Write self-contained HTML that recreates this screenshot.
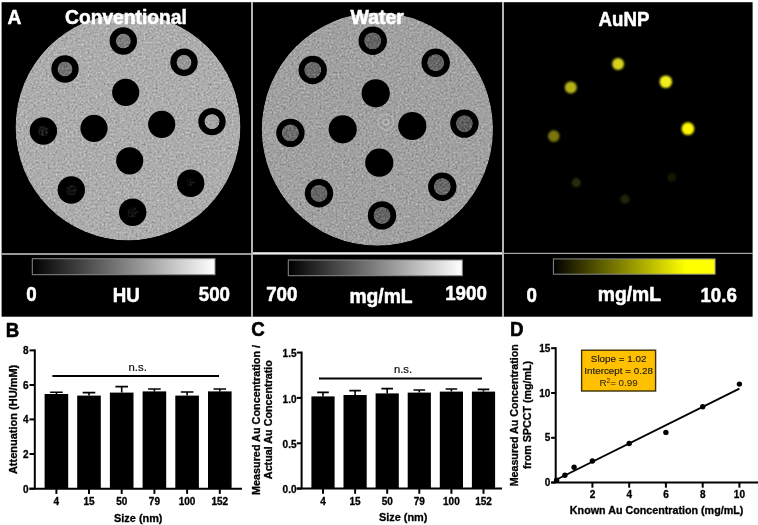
<!DOCTYPE html>
<html><head><meta charset="utf-8"><title>Figure</title>
<style>html,body{margin:0;padding:0;background:#fff}svg{display:block}text{font-family:"Liberation Sans",Arial,sans-serif}.b{font-weight:bold}</style>
</head><body>
<svg width="758" height="525" viewBox="0 0 758 525">
<defs>
<filter id="nz" x="0" y="0" width="100%" height="100%" color-interpolation-filters="sRGB">
<feTurbulence type="fractalNoise" baseFrequency="0.5" numOctaves="2" seed="7" result="t"/>
<feColorMatrix in="t" type="matrix" values="0.6 0.6 0.6 0 -0.4  0.6 0.6 0.6 0 -0.4  0.6 0.6 0.6 0 -0.4  0 0 0 0 1" result="g0"/>
<feGaussianBlur in="g0" stdDeviation="0.6" result="g"/>
<feGaussianBlur in="SourceGraphic" stdDeviation="0.5" result="sg"/>
<feComposite in="sg" in2="g" operator="arithmetic" k1="0" k2="1" k3="0.36" k4="-0.18" result="c"/>
<feComposite in="c" in2="sg" operator="in"/>
</filter>
<filter id="bl" x="-50%" y="-50%" width="200%" height="200%"><feGaussianBlur stdDeviation="0.9"/></filter>
<filter id="bl2" x="-50%" y="-50%" width="200%" height="200%"><feGaussianBlur stdDeviation="0.5"/></filter>
<linearGradient id="gw" x1="0" x2="1" y1="0" y2="0"><stop offset="0" stop-color="#000"/><stop offset="1" stop-color="#fff"/></linearGradient>
<linearGradient id="gy" x1="0" x2="1" y1="0" y2="0"><stop offset="0" stop-color="#000"/><stop offset="0.82" stop-color="#ffff00"/><stop offset="1" stop-color="#ffff00"/></linearGradient>
</defs>
<rect x="0" y="0" width="758" height="525" fill="#fff"/>
<rect x="1.6" y="2.2" width="751" height="314.5" fill="#000"/>
<g filter="url(#nz)"><ellipse cx="128" cy="127" rx="112.5" ry="113.4" fill="#acacac"/></g>
<circle cx="125.7" cy="92.3" r="13.6" fill="#000" filter="url(#bl2)"/>
<circle cx="94" cy="128.3" r="13.6" fill="#000" filter="url(#bl2)"/>
<circle cx="161.7" cy="124.3" r="13.6" fill="#000" filter="url(#bl2)"/>
<circle cx="129.7" cy="160.8" r="13.6" fill="#000" filter="url(#bl2)"/>
<circle cx="123.3" cy="41" r="13.7" fill="#000" filter="url(#bl2)"/>
<circle cx="65" cy="69" r="13.7" fill="#000" filter="url(#bl2)"/>
<circle cx="184" cy="62.3" r="13.7" fill="#000" filter="url(#bl2)"/>
<circle cx="212" cy="121.6" r="13.7" fill="#000" filter="url(#bl2)"/>
<circle cx="43.4" cy="131" r="13.7" fill="#000" filter="url(#bl2)"/>
<circle cx="71.3" cy="190" r="13.7" fill="#000" filter="url(#bl2)"/>
<circle cx="190.7" cy="183.3" r="13.7" fill="#000" filter="url(#bl2)"/>
<circle cx="132.7" cy="212.3" r="13.7" fill="#000" filter="url(#bl2)"/>
<g filter="url(#nz)">
<circle cx="123.3" cy="41" r="7.6" fill="#7c7c7c"/>
<circle cx="65" cy="69" r="7.6" fill="#727272"/>
<circle cx="184" cy="62.3" r="7.6" fill="#969696"/>
<circle cx="212" cy="121.6" r="7.7" fill="#a6a6a6"/>
<circle cx="43.4" cy="131" r="5.5" fill="#181818"/>
<circle cx="71.3" cy="190" r="5.5" fill="#111111"/>
<circle cx="190.7" cy="183.3" r="4.5" fill="#0a0a0a"/>
<circle cx="132.7" cy="212.3" r="5.5" fill="#0e0e0e"/>
</g>
<g filter="url(#nz)"><ellipse cx="377.4" cy="129.2" rx="115.7" ry="116.6" fill="#a0a0a0"/></g>
<circle cx="375.7" cy="93.3" r="14.1" fill="#000" filter="url(#bl2)"/>
<circle cx="342.7" cy="129.3" r="14.1" fill="#000" filter="url(#bl2)"/>
<circle cx="412.3" cy="126" r="14.1" fill="#000" filter="url(#bl2)"/>
<circle cx="379.3" cy="162.7" r="14.1" fill="#000" filter="url(#bl2)"/>
<circle cx="372.7" cy="40.8" r="14.2" fill="#000" filter="url(#bl2)"/>
<circle cx="312.7" cy="70" r="14.2" fill="#000" filter="url(#bl2)"/>
<circle cx="435.7" cy="62.7" r="14.2" fill="#000" filter="url(#bl2)"/>
<circle cx="464.4" cy="123.6" r="14.2" fill="#000" filter="url(#bl2)"/>
<circle cx="290.4" cy="132.9" r="14.2" fill="#000" filter="url(#bl2)"/>
<circle cx="319" cy="193.3" r="14.2" fill="#000" filter="url(#bl2)"/>
<circle cx="442.3" cy="186.7" r="14.2" fill="#000" filter="url(#bl2)"/>
<circle cx="382" cy="215.4" r="14.2" fill="#000" filter="url(#bl2)"/>
<g filter="url(#nz)">
<circle cx="372.7" cy="40.8" r="8.6" fill="#646464"/>
<circle cx="312.7" cy="70" r="8.6" fill="#6a6a6a"/>
<circle cx="435.7" cy="62.7" r="8.6" fill="#666666"/>
<circle cx="464.4" cy="123.6" r="8.6" fill="#5e5e5e"/>
<circle cx="290.4" cy="132.9" r="8.6" fill="#6c6c6c"/>
<circle cx="319" cy="193.3" r="8.6" fill="#666666"/>
<circle cx="442.3" cy="186.7" r="8.6" fill="#686868"/>
<circle cx="382" cy="215.4" r="8.6" fill="#646464"/>
</g>
<g fill="none" filter="url(#bl2)" opacity="0.55"><circle cx="385.8" cy="122" r="1" fill="#6a6a6a"/><circle cx="385.8" cy="122" r="2.9" stroke="#cfcfcf" stroke-width="1.1"/><circle cx="385.8" cy="122" r="5.4" stroke="#888" stroke-width="1"/><circle cx="385.8" cy="122" r="7.8" stroke="#c4c4c4" stroke-width="1.3"/><circle cx="385.8" cy="122" r="10.5" stroke="#969696" stroke-width="1"/></g>
<circle cx="618.1" cy="64" r="6" fill="#d6d21a" filter="url(#bl)"/>
<circle cx="570.8" cy="87.5" r="6" fill="#b6b216" filter="url(#bl)"/>
<circle cx="665.8" cy="81.7" r="6.3" fill="#f2ee1c" filter="url(#bl)"/>
<circle cx="687.9" cy="128.7" r="6.4" fill="#fff600" filter="url(#bl)"/>
<circle cx="553.8" cy="136.1" r="5.8" fill="#7a7610" filter="url(#bl)"/>
<circle cx="576.3" cy="182.7" r="4.6" fill="#2c2a08" filter="url(#bl)"/>
<circle cx="671.9" cy="177.4" r="4.6" fill="#151504" filter="url(#bl)"/>
<circle cx="624.9" cy="199.2" r="4.6" fill="#242408" filter="url(#bl)"/>
<rect x="251" y="2" width="2" height="315" fill="#b4b4b4"/>
<rect x="502" y="2" width="2" height="315" fill="#b4b4b4"/>
<rect x="2" y="253" width="249" height="2" fill="#999"/>
<rect x="253" y="252.2" width="249" height="2.4" fill="#ececec"/>
<rect x="504" y="252.8" width="249" height="1.2" fill="#a8a8a8"/>
<rect x="32.3" y="258.7" width="182.7" height="16" fill="url(#gw)" stroke="#8a8a8a" stroke-width="1"/>
<rect x="288.3" y="260" width="174" height="15.7" fill="url(#gw)" stroke="#8a8a8a" stroke-width="1"/>
<rect x="553.4" y="258.9" width="161.7" height="15.3" fill="url(#gy)" stroke="#8a8a8a" stroke-width="1"/>
<text id="tA" transform="translate(7.4 23.8) scale(0.97 1)" font-size="19.8" class="b" fill="#fff" text-anchor="start" stroke="#fff" stroke-width="0.55" stroke-linejoin="round">A</text>
<text id="tConv" transform="translate(65.0 23.8) scale(0.972 1)" font-size="19.8" class="b" fill="#fff" text-anchor="start" stroke="#fff" stroke-width="0.55" stroke-linejoin="round">Conventional</text>
<text id="tWater" transform="translate(350.6 23.6) scale(0.982 1)" font-size="19.8" class="b" fill="#fff" text-anchor="start" stroke="#fff" stroke-width="0.55" stroke-linejoin="round">Water</text>
<text id="tAu" transform="translate(598.6 26.1) scale(0.945 1)" font-size="19.8" class="b" fill="#fff" text-anchor="start" stroke="#fff" stroke-width="0.55" stroke-linejoin="round">AuNP</text>
<text id="l0" transform="translate(26.2 300.6) scale(0.945 1)" font-size="19.8" class="b" fill="#fff" text-anchor="start" stroke="#fff" stroke-width="0.55" stroke-linejoin="round">0</text>
<text id="lHU" transform="translate(112.8 301.6) scale(0.945 1)" font-size="19.8" class="b" fill="#fff" text-anchor="start" stroke="#fff" stroke-width="0.55" stroke-linejoin="round">HU</text>
<text id="l500" transform="translate(198.8 300.6) scale(0.945 1)" font-size="19.8" class="b" fill="#fff" text-anchor="start" stroke="#fff" stroke-width="0.55" stroke-linejoin="round">500</text>
<text id="l700" transform="translate(266.2 301.4) scale(0.945 1)" font-size="19.8" class="b" fill="#fff" text-anchor="start" stroke="#fff" stroke-width="0.55" stroke-linejoin="round">700</text>
<text id="lmg1" transform="translate(349.4 302.7) scale(0.975 1)" font-size="19.8" class="b" fill="#fff" text-anchor="start" stroke="#fff" stroke-width="0.55" stroke-linejoin="round">mg/mL</text>
<text id="l1900" transform="translate(445.2 300.2) scale(0.945 1)" font-size="19.8" class="b" fill="#fff" text-anchor="start" stroke="#fff" stroke-width="0.55" stroke-linejoin="round">1900</text>
<text id="r0" transform="translate(526.4 302.2) scale(0.945 1)" font-size="19.8" class="b" fill="#fff" text-anchor="start" stroke="#fff" stroke-width="0.55" stroke-linejoin="round">0</text>
<text id="lmg2" transform="translate(597.8 301.2) scale(0.975 1)" font-size="19.8" class="b" fill="#fff" text-anchor="start" stroke="#fff" stroke-width="0.55" stroke-linejoin="round">mg/mL</text>
<text id="l106" transform="translate(700.4 302) scale(0.945 1)" font-size="19.8" class="b" fill="#fff" text-anchor="start" stroke="#fff" stroke-width="0.55" stroke-linejoin="round">10.6</text>
<text id="tB" transform="translate(5.8 336.6) scale(0.945 1)" font-size="19.8" class="b" fill="#000" text-anchor="start" stroke="#000" stroke-width="0.55" stroke-linejoin="round">B</text>
<text id="tC" transform="translate(251.2 336.2) scale(0.945 1)" font-size="19.8" class="b" fill="#000" text-anchor="start" stroke="#000" stroke-width="0.55" stroke-linejoin="round">C</text>
<text id="tD" transform="translate(510 336.4) scale(0.945 1)" font-size="19.8" class="b" fill="#000" text-anchor="start" stroke="#000" stroke-width="0.55" stroke-linejoin="round">D</text>
<g stroke="#000" stroke-width="2" fill="none">
<path d="M34.8 349.4V488.7"/>
<path d="M29.499999999999996 488.7H242"/>
<path d="M29.499999999999996 350.4H34.8"/>
<path d="M29.499999999999996 385H34.8"/>
<path d="M29.499999999999996 419.4H34.8"/>
<path d="M29.499999999999996 454H34.8"/>
<path d="M29.499999999999996 488.7H34.8"/>
<path d="M56.4 488.7V493.9"/>
<path d="M89.0 488.7V493.9"/>
<path d="M121.7 488.7V493.9"/>
<path d="M154.4 488.7V493.9"/>
<path d="M187.1 488.7V493.9"/>
<path d="M219.8 488.7V493.9"/>
</g>
<rect x="44.6" y="394" width="23.6" height="94.7" fill="#000"/>
<path d="M56.4 394V392.2M50.1 392.2H62.699999999999996" stroke="#000" stroke-width="1.6" fill="none"/>
<rect x="77.2" y="395.6" width="23.6" height="93.1" fill="#000"/>
<path d="M89.0 395.6V392.6M82.7 392.6H95.3" stroke="#000" stroke-width="1.6" fill="none"/>
<rect x="109.9" y="392.6" width="23.6" height="96.1" fill="#000"/>
<path d="M121.7 392.6V386.6M115.4 386.6H128.0" stroke="#000" stroke-width="1.6" fill="none"/>
<rect x="142.6" y="391.4" width="23.6" height="97.3" fill="#000"/>
<path d="M154.4 391.4V389M148.1 389H160.70000000000002" stroke="#000" stroke-width="1.6" fill="none"/>
<rect x="175.3" y="395.6" width="23.6" height="93.1" fill="#000"/>
<path d="M187.1 395.6V392M180.79999999999998 392H193.4" stroke="#000" stroke-width="1.6" fill="none"/>
<rect x="208.0" y="391.4" width="23.6" height="97.3" fill="#000"/>
<path d="M219.8 391.4V389M213.5 389H226.10000000000002" stroke="#000" stroke-width="1.6" fill="none"/>
<path d="M52.4 376H219" stroke="#000" stroke-width="2"/>
<text id="Bns" x="137.7" y="370.6" font-size="11.3" class="" fill="#111" text-anchor="middle" stroke="#111" stroke-width="0.2" stroke-linejoin="round">n.s.</text>
<text x="28.599999999999998" y="354.4" font-size="10" class="b" fill="#000" text-anchor="end" stroke="#000" stroke-width="0.3" stroke-linejoin="round">8</text>
<text x="28.599999999999998" y="389.0" font-size="10" class="b" fill="#000" text-anchor="end" stroke="#000" stroke-width="0.3" stroke-linejoin="round">6</text>
<text x="28.599999999999998" y="423.4" font-size="10" class="b" fill="#000" text-anchor="end" stroke="#000" stroke-width="0.3" stroke-linejoin="round">4</text>
<text x="28.599999999999998" y="458.0" font-size="10" class="b" fill="#000" text-anchor="end" stroke="#000" stroke-width="0.3" stroke-linejoin="round">2</text>
<text x="28.599999999999998" y="492.7" font-size="10" class="b" fill="#000" text-anchor="end" stroke="#000" stroke-width="0.3" stroke-linejoin="round">0</text>
<text x="56.4" y="504.8" font-size="10" class="b" fill="#000" text-anchor="middle" stroke="#000" stroke-width="0.3" stroke-linejoin="round">4</text>
<text x="89.0" y="504.8" font-size="10" class="b" fill="#000" text-anchor="middle" stroke="#000" stroke-width="0.3" stroke-linejoin="round">15</text>
<text x="121.7" y="504.8" font-size="10" class="b" fill="#000" text-anchor="middle" stroke="#000" stroke-width="0.3" stroke-linejoin="round">50</text>
<text x="154.4" y="504.8" font-size="10" class="b" fill="#000" text-anchor="middle" stroke="#000" stroke-width="0.3" stroke-linejoin="round">79</text>
<text x="187.1" y="504.8" font-size="10" class="b" fill="#000" text-anchor="middle" stroke="#000" stroke-width="0.3" stroke-linejoin="round">100</text>
<text x="219.8" y="504.8" font-size="10" class="b" fill="#000" text-anchor="middle" stroke="#000" stroke-width="0.3" stroke-linejoin="round">152</text>
<text id="Bx" x="138.3" y="522" font-size="10.9" class="b" fill="#000" text-anchor="middle" stroke="#000" stroke-width="0.3" stroke-linejoin="round">Size (nm)</text>
<text id="By" transform="translate(17 419.4) rotate(-90)" font-size="11" class="b" fill="#000" stroke="#000" stroke-width="0.3" text-anchor="middle">Attenuation (HU/mM)</text>
<g stroke="#000" stroke-width="2" fill="none">
<path d="M301.6 351.6V488.6"/>
<path d="M296.8 488.6H502"/>
<path d="M296.8 352.6H301.6"/>
<path d="M296.8 397.9H301.6"/>
<path d="M296.8 443.3H301.6"/>
<path d="M296.8 488.6H301.6"/>
<path d="M323 488.6V493.8"/>
<path d="M355.1 488.6V493.8"/>
<path d="M387.2 488.6V493.8"/>
<path d="M419.3 488.6V493.8"/>
<path d="M451.4 488.6V493.8"/>
<path d="M483.5 488.6V493.8"/>
</g>
<rect x="311.4" y="396.4" width="23.2" height="92.2" fill="#000"/>
<path d="M323 396.4V392.4M317.2 392.4H328.8" stroke="#000" stroke-width="1.6" fill="none"/>
<rect x="343.5" y="395" width="23.2" height="93.6" fill="#000"/>
<path d="M355.1 395V390.6M349.3 390.6H360.90000000000003" stroke="#000" stroke-width="1.6" fill="none"/>
<rect x="375.6" y="393.4" width="23.2" height="95.2" fill="#000"/>
<path d="M387.2 393.4V388.6M381.4 388.6H393.0" stroke="#000" stroke-width="1.6" fill="none"/>
<rect x="407.7" y="392.6" width="23.2" height="96.0" fill="#000"/>
<path d="M419.3 392.6V390M413.5 390H425.1" stroke="#000" stroke-width="1.6" fill="none"/>
<rect x="439.8" y="391.6" width="23.2" height="97.0" fill="#000"/>
<path d="M451.4 391.6V389M445.59999999999997 389H457.2" stroke="#000" stroke-width="1.6" fill="none"/>
<rect x="471.9" y="391.6" width="23.2" height="97.0" fill="#000"/>
<path d="M483.5 391.6V389.4M477.7 389.4H489.3" stroke="#000" stroke-width="1.6" fill="none"/>
<path d="M319 378.5H482" stroke="#000" stroke-width="2"/>
<text id="Cns" x="403" y="373.2" font-size="11.3" class="" fill="#111" text-anchor="middle" stroke="#111" stroke-width="0.2" stroke-linejoin="round">n.s.</text>
<text x="296.50000000000006" y="357.20000000000005" font-size="10" class="b" fill="#000" text-anchor="end" stroke="#000" stroke-width="0.3" stroke-linejoin="round">1.5</text>
<text x="296.50000000000006" y="402.5" font-size="10" class="b" fill="#000" text-anchor="end" stroke="#000" stroke-width="0.3" stroke-linejoin="round">1.0</text>
<text x="296.50000000000006" y="447.90000000000003" font-size="10" class="b" fill="#000" text-anchor="end" stroke="#000" stroke-width="0.3" stroke-linejoin="round">0.5</text>
<text x="296.50000000000006" y="493.20000000000005" font-size="10" class="b" fill="#000" text-anchor="end" stroke="#000" stroke-width="0.3" stroke-linejoin="round">0.0</text>
<text x="323" y="504.70000000000005" font-size="10" class="b" fill="#000" text-anchor="middle" stroke="#000" stroke-width="0.3" stroke-linejoin="round">4</text>
<text x="355.1" y="504.70000000000005" font-size="10" class="b" fill="#000" text-anchor="middle" stroke="#000" stroke-width="0.3" stroke-linejoin="round">15</text>
<text x="387.2" y="504.70000000000005" font-size="10" class="b" fill="#000" text-anchor="middle" stroke="#000" stroke-width="0.3" stroke-linejoin="round">50</text>
<text x="419.3" y="504.70000000000005" font-size="10" class="b" fill="#000" text-anchor="middle" stroke="#000" stroke-width="0.3" stroke-linejoin="round">79</text>
<text x="451.4" y="504.70000000000005" font-size="10" class="b" fill="#000" text-anchor="middle" stroke="#000" stroke-width="0.3" stroke-linejoin="round">100</text>
<text x="483.5" y="504.70000000000005" font-size="10" class="b" fill="#000" text-anchor="middle" stroke="#000" stroke-width="0.3" stroke-linejoin="round">152</text>
<text id="Cx" x="403.2" y="520.9" font-size="10.9" class="b" fill="#000" text-anchor="middle" stroke="#000" stroke-width="0.3" stroke-linejoin="round">Size (nm)</text>
<text id="Cy1" transform="translate(259.8 420) rotate(-90)" font-size="10.85" class="b" fill="#000" stroke="#000" stroke-width="0.3" text-anchor="middle">Measured Au Concentration /</text>
<text id="Cy2" transform="translate(272.4 419.6) rotate(-90)" font-size="10.75" class="b" fill="#000" stroke="#000" stroke-width="0.3" text-anchor="middle">Actual Au Concentratio</text>
<g stroke="#000" stroke-width="2" fill="none">
<path d="M555.7 347.2V482.5"/>
<path d="M551.1 482.5H758"/>
<path d="M551.1 482.5H555.7"/>
<path d="M551.1 437.8H555.7"/>
<path d="M551.1 393.0H555.7"/>
<path d="M551.1 348.2H555.7"/>
<path d="M592.4 482.5V487.7"/>
<path d="M629.2 482.5V487.7"/>
<path d="M665.9 482.5V487.7"/>
<path d="M702.7 482.5V487.7"/>
<path d="M739.4 482.5V487.7"/>
<path d="M554.7 480.5L739.4 388.7" stroke-width="1.9"/>
</g>
<circle cx="556.6" cy="480.3" r="2.7" fill="#000"/>
<circle cx="564.9" cy="475.3" r="2.7" fill="#000"/>
<circle cx="574.1" cy="467.3" r="2.7" fill="#000"/>
<circle cx="592.4" cy="461.0" r="2.7" fill="#000"/>
<circle cx="629.2" cy="443.5" r="2.7" fill="#000"/>
<circle cx="665.9" cy="432.4" r="2.7" fill="#000"/>
<circle cx="702.7" cy="406.7" r="2.7" fill="#000"/>
<circle cx="739.4" cy="384.1" r="2.7" fill="#000"/>
<text x="550.3000000000001" y="486.2" font-size="10" class="b" fill="#000" text-anchor="end" stroke="#000" stroke-width="0.3" stroke-linejoin="round">0</text>
<text x="550.3000000000001" y="441.45" font-size="10" class="b" fill="#000" text-anchor="end" stroke="#000" stroke-width="0.3" stroke-linejoin="round">5</text>
<text x="550.3000000000001" y="396.7" font-size="10" class="b" fill="#000" text-anchor="end" stroke="#000" stroke-width="0.3" stroke-linejoin="round">10</text>
<text x="550.3000000000001" y="351.95" font-size="10" class="b" fill="#000" text-anchor="end" stroke="#000" stroke-width="0.3" stroke-linejoin="round">15</text>
<text x="592.44" y="498.4" font-size="10" class="b" fill="#000" text-anchor="middle" stroke="#000" stroke-width="0.3" stroke-linejoin="round">2</text>
<text x="629.1800000000001" y="498.4" font-size="10" class="b" fill="#000" text-anchor="middle" stroke="#000" stroke-width="0.3" stroke-linejoin="round">4</text>
<text x="665.9200000000001" y="498.4" font-size="10" class="b" fill="#000" text-anchor="middle" stroke="#000" stroke-width="0.3" stroke-linejoin="round">6</text>
<text x="702.6600000000001" y="498.4" font-size="10" class="b" fill="#000" text-anchor="middle" stroke="#000" stroke-width="0.3" stroke-linejoin="round">8</text>
<text x="739.4000000000001" y="498.4" font-size="10" class="b" fill="#000" text-anchor="middle" stroke="#000" stroke-width="0.3" stroke-linejoin="round">10</text>
<text id="Dx" x="656.6" y="514" font-size="10.73" class="b" fill="#000" text-anchor="middle" stroke="#000" stroke-width="0.3" stroke-linejoin="round">Known Au Concentration (mg/mL)</text>
<text id="Dy1" transform="translate(517.9 415.3) rotate(-90)" font-size="10.7" class="b" fill="#000" stroke="#000" stroke-width="0.3" text-anchor="middle">Measured Au Concentration</text>
<text id="Dy2" transform="translate(530.5 415) rotate(-90)" font-size="10.7" class="b" fill="#000" stroke="#000" stroke-width="0.3" text-anchor="middle">from SPCCT (mg/mL)</text>
<rect x="581.6" y="350.2" width="74" height="40.8" fill="#ffc000" stroke="#3a3000" stroke-width="1.4"/>
<text id="bx1" x="618.6" y="361.9" font-size="9.85" class="" fill="#1c1c1c" text-anchor="middle" stroke="#1c1c1c" stroke-width="0.15" stroke-linejoin="round">Slope = 1.02</text>
<text id="bx2" x="618.6" y="373.9" font-size="9.85" class="" fill="#1c1c1c" text-anchor="middle" stroke="#1c1c1c" stroke-width="0.15" stroke-linejoin="round">Intercept = 0.28</text>
<text id="bx3" x="618.6" y="385.9" font-size="9.85" fill="#222" text-anchor="middle">R<tspan font-size="6.5" dy="-3.3">2</tspan><tspan dy="3.3">= 0.99</tspan></text>
</svg></body></html>
